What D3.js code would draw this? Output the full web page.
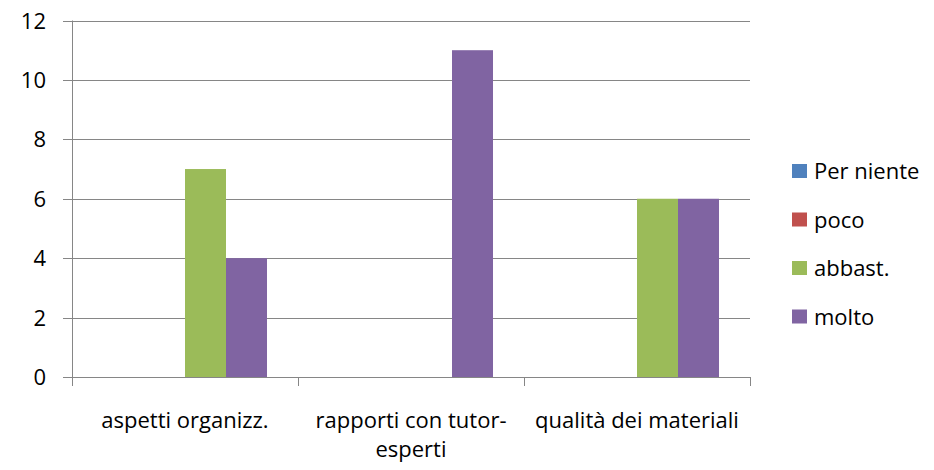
<!DOCTYPE html>
<html>
<head>
<meta charset="utf-8">
<script src="https://cdn.jsdelivr.net/npm/d3@7"></script>
<style>
  body { margin: 0; background: #fff; }
  text { font-family: "Open Sans", sans-serif; fill: #000; }
</style>
</head>
<body>
<script>
const categories = ["aspetti organizz.", "rapporti con tutor-esperti", "qualità dei materiali"]
const seriesNames = ["Per niente", "poco", "abbast.", "molto"]
const perNiente = [0, 0, 0]
const poco = [0, 0, 0]
const abbast = [7, 0, 6]
const molto = [4, 11, 6]
const yTicks = [0, 2, 4, 6, 8, 10, 12]
const colors = ["#4F81BD", "#C0504D", "#9BBB59", "#8064A2"]

const labelLines = [["aspetti organizz."], ["rapporti con tutor-", "esperti"], ["qualità dei materiali"]]

const width = 934, height = 470
const m = {left: 72, right: 184, top: 20.5, bottom: 93}

const svg = d3.select("body").append("svg")
    .attr("width", width)
    .attr("height", height)

const x = d3.scaleBand()
    .domain(categories)
    .range([m.left, width - m.right])

const x1 = d3.scaleBand()
    .domain(seriesNames)
    .range([0, x.bandwidth()])
    .paddingOuter(0.756)
    .paddingInner(0)

const y = d3.scaleLinear()
    .domain([0, 12])
    .range([height - m.bottom, m.top])

// gridlines
svg.append("g")
    .selectAll("line")
    .data(yTicks)
    .enter()
    .append("line")
    .attr("x1", m.left - 9)
    .attr("x2", width - m.right)
    .attr("y1", d => Math.round(y(d)) + 0.5)
    .attr("y2", d => Math.round(y(d)) + 0.5)
    .attr("stroke", "#868686")
    .attr("stroke-width", 1)

// y labels
svg.append("g")
    .selectAll("text")
    .data(yTicks)
    .enter()
    .append("text")
    .attr("x", 46)
    .attr("y", d => y(d) + 8)
    .attr("text-anchor", "end")
    .style("font-size", "22px")
    .text(d => d)

// bars
const data = [perNiente, poco, abbast, molto]
categories.forEach((c, i) => {
    svg.append("g")
        .selectAll("rect")
        .data(seriesNames.map((s, k) => ({s, v: data[k][i], k})))
        .enter()
        .append("rect")
        .attr("x", d => x(c) + x1(d.s))
        .attr("width", x1.bandwidth())
        .attr("y", d => y(d.v))
        .attr("height", d => y(0) - y(d.v))
        .attr("fill", d => colors[d.k])
})

// axes lines
const axisG = svg.append("g").attr("stroke", "#868686").attr("stroke-width", 1)
axisG.append("line")
    .attr("x1", m.left + 0.5).attr("x2", m.left + 0.5)
    .attr("y1", m.top).attr("y2", y(0) + 9)
const edges = categories.map(c => x(c)).concat([width - m.right])
axisG.selectAll("line.t")
    .data(edges.slice(1))
    .enter()
    .append("line")
    .attr("class", "t")
    .attr("x1", d => Math.round(d) + 0.5).attr("x2", d => Math.round(d) + 0.5)
    .attr("y1", y(0)).attr("y2", y(0) + 9)

// category labels
categories.forEach((c, i) => {
    const t = svg.append("text")
        .attr("text-anchor", "middle")
        .style("font-size", "22px")
    labelLines[i].forEach((line, j) => {
        t.append("tspan")
            .attr("x", x(c) + x.bandwidth() / 2)
            .attr("y", 428 + j * 29)
            .text(line)
    })
})

// legend
const legend = svg.append("g")
    .selectAll("g")
    .data(seriesNames)
    .enter()
    .append("g")
    .attr("transform", (d, i) => `translate(792, ${171 + i * 48.5})`)
legend.append("rect")
    .attr("x", 0).attr("y", -7)
    .attr("width", 15).attr("height", 14)
    .attr("fill", (d, i) => colors[i])
legend.append("text")
    .attr("x", 22).attr("y", 8)
    .style("font-size", "22px")
    .text(d => d)
</script>
</body>
</html>
